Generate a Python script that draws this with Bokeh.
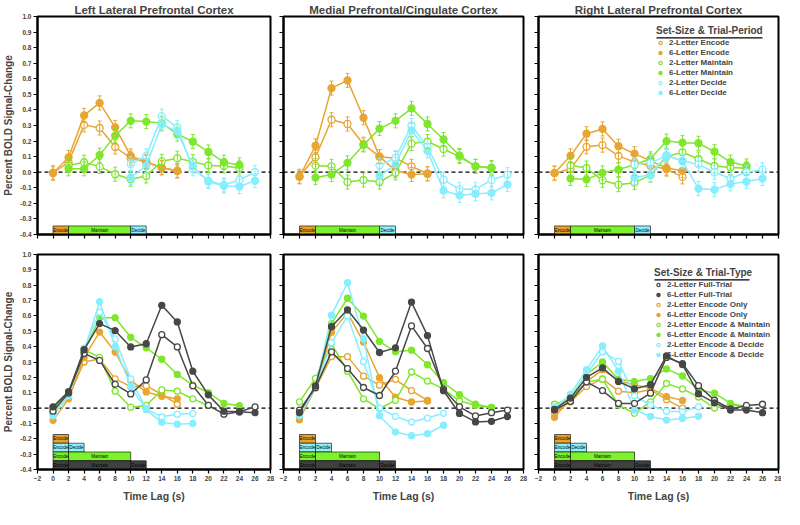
from bokeh.plotting import figure
from bokeh.models import (Range1d, FixedTicker, NumeralTickFormatter, Span, Whisker, TeeHead,
                          ColumnDataSource, Legend, LegendItem, BoxAnnotation)
from bokeh.layouts import column, row
from bokeh.embed import file_html
from bokeh.resources import INLINE
from bokeh.core.properties import value

FONT = "Liberation Sans"
ORANGE = "#E8A531"
GREEN = "#7FE62E"
CYAN = "#86EEFF"
DARK = "#474747"
BAR_COLORS = {"orange": "#E6A22A", "green": "#7DF22C", "cyan": "#8CF0FF", "gray": "#404040"}

X_TICKS = [-2, 0, 2, 4, 6, 8, 10, 12, 14, 16, 18, 20, 22, 24, 26, 28]
Y_TICKS = [-0.4, -0.3, -0.2, -0.1, 0.0, 0.1, 0.2, 0.3, 0.4, 0.5, 0.6, 0.7, 0.8, 0.9, 1.0]

TITLES = ["Left Lateral Prefrontal Cortex", "Medial Prefrontal/Cingulate Cortex",
          "Right Lateral Prefrontal Cortex"]

# ---------------- top row: trial-period regressors ----------------
T_ENC = [0, 2, 4, 6, 8, 10, 12, 14, 16]
T_MNT = [2, 4, 6, 8, 10, 12, 14, 16, 18, 20, 22, 24]
T_DEC = [10, 12, 14, 16, 18, 20, 22, 24, 26]
ERR_TOP = 0.045

TL_ENC2 = [-0.005, 0.064, 0.304, 0.284, 0.162, 0.09, 0.064, 0.03, 0.01]
TL_ENC6 = [-0.005, 0.095, 0.365, 0.445, 0.288, 0.105, 0.068, 0.028, 0.008]
TL_MNT2 = [0.043, 0.064, 0.036, -0.013, -0.045, -0.024, 0.07, 0.09, 0.068, 0.043, 0.04, 0.027]
TL_MNT6 = [0.022, 0.022, 0.11, 0.235, 0.33, 0.325, 0.315, 0.245, 0.197, 0.13, 0.064, 0.047]
TL_DEC2 = [0.053, 0.105, 0.36, 0.288, 0.022, -0.055, -0.082, -0.05, 0.0]
TL_DEC6 = [-0.034, 0.04, 0.308, 0.262, 0.04, -0.06, -0.088, -0.092, -0.055]

TM_ENC2 = [-0.026, 0.096, 0.337, 0.31, 0.18, 0.10, 0.09, 0.038, -0.01]
TM_ENC6 = [-0.03, 0.17, 0.54, 0.59, 0.35, 0.10, 0.01, -0.015, -0.01]
TM_MNT2 = [0.042, 0.038, -0.063, -0.05, -0.063, -0.004, 0.184, 0.197, 0.149, 0.10, 0.038, 0.025]
TM_MNT6 = [-0.035, -0.015, 0.06, 0.175, 0.28, 0.33, 0.41, 0.31, 0.21, 0.107, 0.038, 0.03]
TM_DEC2 = [0.044, 0.092, 0.30, 0.163, -0.047, -0.11, -0.11, -0.05, -0.016]
TM_DEC6 = [-0.025, 0.05, 0.268, 0.138, -0.118, -0.149, -0.139, -0.133, -0.078]

TR_ENC2 = [-0.006, 0.02, 0.163, 0.174, 0.105, 0.065, 0.04, 0.02, -0.03]
TR_ENC6 = [-0.006, 0.105, 0.247, 0.278, 0.167, 0.119, 0.073, 0.027, 0.01]
TR_MNT2 = [0.044, 0.027, -0.052, -0.08, -0.067, -0.019, 0.1, 0.128, 0.085, 0.04, 0.03, 0.025]
TR_MNT6 = [-0.04, -0.046, -0.004, 0.017, 0.048, 0.086, 0.2, 0.19, 0.186, 0.132, 0.065, 0.04]
TR_DEC2 = [0.05, 0.06, 0.105, 0.074, 0.05, 0.0, -0.04, 0.0, 0.016]
TR_DEC6 = [-0.034, -0.016, 0.109, 0.071, -0.105, -0.112, -0.075, -0.06, -0.04]

TOP_LABELS = ["2-Letter Encode", "6-Letter Encode", "2-Letter Maintain", "6-Letter Maintain",
              "2-Letter Decide", "6-Letter Decide"]

# ---------------- bottom row: trial types ----------------
T_FULL = [0, 2, 4, 6, 8, 10, 12, 14, 16, 18, 20, 22, 24, 26]
T_ENCO = [0, 2, 4, 6, 8, 10, 12, 14, 16]
T_EM = [0, 2, 4, 6, 8, 10, 12, 14, 16, 18, 20, 22, 24]
T_EM_SHORT = [0, 2, 4, 6, 8, 10, 12, 14, 16, 18, 20]
T_ED = [0, 2, 4, 6, 8, 10, 12, 14, 16, 18]

BL_FULL2 = [-0.02, 0.098, 0.356, 0.31, 0.155, 0.092, 0.183, 0.478, 0.398, 0.145, 0.018, -0.04, -0.024, 0.008]
BL_FULL6 = [0.008, 0.107, 0.38, 0.55, 0.504, 0.398, 0.419, 0.669, 0.561, 0.24, 0.086, -0.02, -0.024, -0.03]
BL_ENC2 = [-0.03, 0.07, 0.30, 0.32, 0.19, 0.14, 0.145, 0.09, 0.025]
BL_ENC6 = [-0.08, 0.06, 0.33, 0.495, 0.365, 0.18, 0.105, 0.077, 0.06]
BL_EM2 = [0.0, 0.09, 0.38, 0.33, 0.11, 0.006, 0.017, 0.118, 0.11, 0.06, 0.017]
BL_EM6 = [0.0, 0.1, 0.37, 0.588, 0.588, 0.461, 0.392, 0.318, 0.219, 0.15, 0.1, 0.03, 0.015]
BL_ED2 = [-0.04, 0.08, 0.39, 0.625, 0.45, 0.19, -0.005, -0.057, -0.04, -0.036]
BL_ED6 = [-0.05, 0.08, 0.37, 0.693, 0.40, 0.14, -0.01, -0.093, -0.105, -0.1]

BM_FULL2 = [-0.014, 0.134, 0.366, 0.257, 0.134, 0.082, 0.24, 0.535, 0.388, 0.124, 0.008, -0.051, -0.03, -0.013]
BM_FULL6 = [-0.03, 0.145, 0.53, 0.64, 0.508, 0.362, 0.392, 0.69, 0.472, 0.113, -0.035, -0.09, -0.086, -0.055]
BM_ENC2 = [-0.06, 0.13, 0.335, 0.335, 0.208, 0.149, 0.187, 0.113, 0.05]
BM_ENC6 = [-0.077, 0.134, 0.493, 0.62, 0.43, 0.198, 0.071, 0.04, 0.046]
BM_EM2 = [0.04, 0.194, 0.42, 0.24, 0.06, -0.003, 0.05, 0.235, 0.176, 0.123, 0.046, 0.018, 0.004]
BM_EM6 = [-0.03, 0.14, 0.55, 0.715, 0.599, 0.434, 0.366, 0.377, 0.282, 0.166, 0.088, 0.025, 0.004]
BM_ED2 = [-0.04, 0.14, 0.425, 0.6, 0.303, 0.0, -0.055, -0.091, -0.065, -0.034]
BM_ED6 = [-0.05, 0.13, 0.605, 0.816, 0.45, -0.05, -0.156, -0.18, -0.167, -0.112]

BR_FULL2 = [-0.013, 0.044, 0.171, 0.114, 0.03, 0.03, 0.097, 0.33, 0.29, 0.146, 0.051, -0.006, 0.017, 0.025]
BR_FULL6 = [-0.008, 0.065, 0.2, 0.262, 0.173, 0.125, 0.152, 0.34, 0.283, 0.093, 0.034, -0.013, -0.013, -0.03]
BR_ENC2 = [-0.03, 0.04, 0.14, 0.19, 0.11, 0.10, 0.12, 0.055, 0.0]
BR_ENC6 = [-0.06, 0.06, 0.17, 0.25, 0.18, 0.15, 0.13, 0.075, 0.05]
BR_EM2 = [0.025, 0.06, 0.17, 0.188, 0.02, -0.034, 0.04, 0.16, 0.125, 0.072, 0.0, 0.02, 0.01]
BR_EM6 = [0.0, 0.07, 0.22, 0.3, 0.188, 0.173, 0.192, 0.255, 0.209, 0.12, 0.097, 0.03, 0.01]
BR_ED2 = [0.01, 0.06, 0.22, 0.367, 0.304, 0.08, 0.02, -0.02, -0.024, 0.008]
BR_ED6 = [0.0, 0.09, 0.25, 0.405, 0.24, -0.013, -0.055, -0.078, -0.068, -0.053]

BOT_LABELS = ["2-Letter Full-Trial", "6-Letter Full-Trial", "2-Letter Encode Only",
              "6-Letter Encode Only", "2-Letter Encode & Maintain", "6-Letter Encode & Maintain",
              "2-Letter Encode & Decide", "6-Letter Encode & Decide"]

# trial-period timelines (seconds)
TOP_PHASES = ["Encode", "Maintain", "Decide"]
TOP_START = [0, 2, 10]
TOP_END = [2, 10, 12]
TOP_BAR_COLORS = ["orange", "green", "cyan"]

BOT_ROW_PHASES = [["Encode"], ["Encode", "Decide"], ["Encode", "Maintain"], ["Encode", "Maintain", "Decide"]]
BOT_ROW_START = [[0], [0, 2], [0, 2], [0, 2, 10]]
BOT_ROW_END = [[2], [2, 4], [2, 10], [2, 10, 12]]
BOT_ROW_COLORS = ["orange", "cyan", "green", "gray"]

H = 218
COLS = [dict(width=276, left=30, right=6), dict(width=254, left=7, right=7), dict(width=251, left=8, right=3)]


def make_fig(col, top):
    c = COLS[col]
    if top:
        h, bt, bb = H + 16 + 6, 16, 6
    else:
        h, bt, bb = H + 14 + 32, 14, 32
    p = figure(width=c["width"], height=h, min_border_left=c["left"], min_border_right=c["right"],
               min_border_top=bt, min_border_bottom=bb, x_range=Range1d(-2, 28),
               y_range=Range1d(-0.4, 1.0), output_backend="svg", toolbar_location=None,
               title=TITLES[col] if top else None)
    p.xgrid.visible = False
    p.ygrid.visible = False
    p.outline_line_color = "black"
    p.outline_line_width = 2
    p.outline_line_alpha = 1
    p.background_fill_color = "white"
    p.border_fill_color = "white"
    if top:
        p.title.align = "center"
        p.title.text_font = FONT
        p.title.text_font_size = "11.5px"
        p.title.text_font_style = "bold"
        p.title.standoff = 2
        p.title.offset = 0
    for ax in (p.xaxis[0], p.yaxis[0]):
        ax.axis_line_width = 2
        ax.axis_line_color = "black"
        ax.major_tick_in = 0
        ax.major_tick_out = 4
        ax.major_tick_line_width = 1.2
        ax.minor_tick_line_color = None
        ax.major_label_text_font = FONT
        ax.major_label_text_font_style = "bold"
        ax.major_label_text_font_size = "6.5px"
        ax.major_label_standoff = 2
        ax.axis_label_text_font = FONT
        ax.axis_label_text_font_style = "bold"
    p.xaxis.ticker = FixedTicker(ticks=X_TICKS)
    p.yaxis.ticker = FixedTicker(ticks=Y_TICKS)
    p.yaxis.formatter = NumeralTickFormatter(format="0.0")
    if top:
        p.xaxis.major_label_overrides = {t: "" for t in X_TICKS}
        p.xaxis.major_label_standoff = 0
    else:
        p.xaxis.axis_label = "Time Lag (s)"
        p.xaxis.axis_label_text_font_size = "10.5px"
        p.xaxis.axis_label_standoff = 6
    if col == 0:
        p.yaxis.axis_label = "Percent BOLD Signal-Change"
        p.yaxis.axis_label_text_font_size = "10px"
        p.yaxis.axis_label_standoff = 3
    else:
        p.yaxis.major_label_overrides = {t: "" for t in Y_TICKS}
        p.yaxis.major_label_standoff = 0
    p.add_layout(Span(location=0, dimension="width", line_color="black", line_dash="4 3",
                      line_width=1.3, level="underlay"))
    return p


def add_series(p, t, y, color, filled, size, err=None):
    data = dict(x=t, y=y)
    if err is not None:
        data["lo"] = [v - err for v in y]
        data["hi"] = [v + err for v in y]
    src = ColumnDataSource(data)
    p.line("x", "y", source=src, line_color=color, line_width=1.5)
    if err is not None:
        p.add_layout(Whisker(source=src, base="x", lower="lo", upper="hi", line_color=color,
                             line_width=1, level="glyph",
                             upper_head=TeeHead(size=4, line_color=color, line_width=1),
                             lower_head=TeeHead(size=4, line_color=color, line_width=1)))
    return p.scatter("x", "y", source=src, marker="circle", size=size, line_color=color,
                     line_width=1.3, fill_color=color if filled else "white")


def add_bars(p, starts, ends, names, color_key, bottom, top):
    src = ColumnDataSource(dict(left=starts, right=ends, name=names,
                                mid=[(a + b) / 2 for a, b in zip(starts, ends)],
                                bottom=[bottom] * len(starts), top=[top] * len(starts),
                                ymid=[(bottom + top) / 2] * len(starts)))
    p.quad(left="left", right="right", bottom="bottom", top="top", source=src,
           fill_color=BAR_COLORS[color_key], line_color="black", line_width=0.6)
    p.text(x="mid", y="ymid", text="name", source=src, text_font=value(FONT),
           text_font_size="4.5px", text_align="center", text_baseline="middle",
           text_color="black")


def style_legend(lg):
    lg.title_text_font = FONT
    lg.title_text_font_style = "bold"
    lg.title_text_font_size = "10px"
    lg.title_standoff = 2
    lg.label_text_font = FONT
    lg.label_text_font_style = "bold"
    lg.label_text_font_size = "8px"
    lg.glyph_height = 9
    lg.glyph_width = 8
    lg.label_height = 9
    lg.spacing = 1
    lg.padding = 2
    lg.margin = 0
    lg.label_standoff = 5
    lg.background_fill_alpha = 0
    lg.border_line_alpha = 0


def underline(p, x0, x1, y):
    p.add_layout(BoxAnnotation(left=x0, right=x1, bottom=y, top=y + 1.2,
                               left_units="screen", right_units="screen",
                               bottom_units="screen", top_units="screen",
                               fill_color="black", fill_alpha=1, line_alpha=0))


top_sets = [
    (TL_ENC2, TL_ENC6, TL_MNT2, TL_MNT6, TL_DEC2, TL_DEC6),
    (TM_ENC2, TM_ENC6, TM_MNT2, TM_MNT6, TM_DEC2, TM_DEC6),
    (TR_ENC2, TR_ENC6, TR_MNT2, TR_MNT6, TR_DEC2, TR_DEC6),
]
bot_sets = [
    (BL_FULL2, BL_FULL6, BL_ENC2, BL_ENC6, BL_EM2, BL_EM6, BL_ED2, BL_ED6, T_EM_SHORT),
    (BM_FULL2, BM_FULL6, BM_ENC2, BM_ENC6, BM_EM2, BM_EM6, BM_ED2, BM_ED6, T_EM),
    (BR_FULL2, BR_FULL6, BR_ENC2, BR_ENC6, BR_EM2, BR_EM6, BR_ED2, BR_ED6, T_EM),
]

top_figs = []
for i, s in enumerate(top_sets):
    p = make_fig(i, True)
    for st, en, nm, ck in zip(TOP_START, TOP_END, TOP_PHASES, TOP_BAR_COLORS):
        add_bars(p, [st], [en], [nm], ck, -0.4, -0.345)
    specs = [(T_ENC, s[0], ORANGE, False), (T_ENC, s[1], ORANGE, True),
             (T_MNT, s[2], GREEN, False), (T_MNT, s[3], GREEN, True),
             (T_DEC, s[4], CYAN, False), (T_DEC, s[5], CYAN, True)]
    rs = [add_series(p, t, y, c, f, 7, ERR_TOP) for t, y, c, f in specs]
    if i == 2:
        lg = Legend(items=[LegendItem(label=l, renderers=[r]) for l, r in zip(TOP_LABELS, rs)],
                    location=(116, 135), title="Set-Size & Trial-Period")
        style_legend(lg)
        p.add_layout(lg)
        underline(p, 118, 224, 196)
    top_figs.append(p)

bot_figs = []
for i, s in enumerate(bot_sets):
    p = make_fig(i, False)
    for r_i, (names, sts, ens, ck) in enumerate(zip(BOT_ROW_PHASES, BOT_ROW_START, BOT_ROW_END, BOT_ROW_COLORS)):
        top_y = -0.172 - r_i * 0.057
        add_bars(p, sts, ens, names, ck, top_y - 0.057, top_y)
    specs = [(T_FULL, s[0], DARK, False), (T_FULL, s[1], DARK, True),
             (T_ENCO, s[2], ORANGE, False), (T_ENCO, s[3], ORANGE, True),
             (s[8], s[4], GREEN, False), (T_EM, s[5], GREEN, True),
             (T_ED, s[6], CYAN, False), (T_ED, s[7], CYAN, True)]
    order = [2, 3, 4, 5, 6, 7, 0, 1]
    rs = [None] * 8
    for k in order:
        t, y, c, f = specs[k]
        rs[k] = add_series(p, t, y, c, f, 6)
    if i == 2:
        lg = Legend(items=[LegendItem(label=l, renderers=[r]) for l, r in zip(BOT_LABELS, rs)],
                    location=(114, 108), title="Set-Size & Trial-Type")
        style_legend(lg)
        p.add_layout(lg)
        underline(p, 116, 211, 189)
    bot_figs.append(p)

layout = column(row(*top_figs), row(*bot_figs))
open("out.html", "w").write(file_html(layout, INLINE))
